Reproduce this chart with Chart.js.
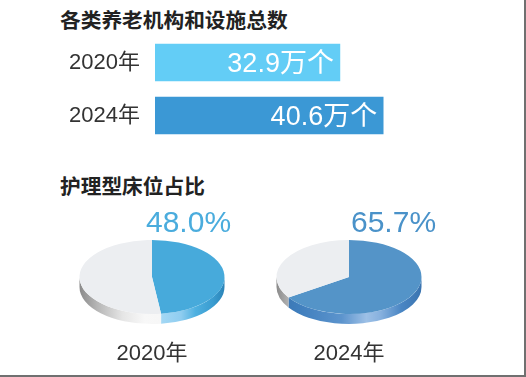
<!DOCTYPE html>
<html>
<head>
<meta charset="utf-8">
<script src="https://cdn.jsdelivr.net/npm/chart.js@4.4.1/dist/chart.umd.min.js"></script>
<style>
  body { margin: 0; background: #fff; }
  #frame {
    position: relative; width: 524px; height: 375px;
    border-right: 2px solid #707070; border-bottom: 2px solid #707070;
    overflow: hidden; background: #fff;
    font-family: "Liberation Sans", "Noto Sans CJK SC", sans-serif;
  }
  .title { position: absolute; left: 60px; font-size: 20.7px; font-weight: bold; color: #222; line-height: 1; white-space: nowrap; font-family: "Noto Sans CJK SC", sans-serif; }
  .year { position: absolute; width: 120px; text-align: center; font-size: 22px; color: #333; line-height: 1; }
  .box { position: absolute; }
</style>
</head>
<body>
<div id="frame">
  <div class="title" style="top:9px">各类养老机构和设施总数</div>
  <div class="title" style="top:175px">护理型床位占比</div>
  <div class="box" style="left:0;top:36px;width:526px;height:106px"><canvas id="bars"></canvas></div>
  <div class="box" style="left:54px;top:200px;width:196px;height:170px"><canvas id="pie0"></canvas></div>
  <div class="box" style="left:251px;top:200px;width:196px;height:170px"><canvas id="pie1"></canvas></div>
  <div class="year" style="left:92px;top:342px">2020年</div>
  <div class="year" style="left:289px;top:342px">2024年</div>
</div>
<script>
// data
const barYears = ['2020年', '2024年'];
const facilityTotals = [32.9, 40.6];   // 万个
const facilityUnit = '万个';
const pieYears = ['2020年', '2024年'];
const nursingShare = [48.0, 65.7];     // %

const FONT = "'Liberation Sans', 'Noto Sans CJK SC', sans-serif";

// white value text inside the bars
const barLabels = {
  id: 'barLabels',
  afterDatasetsDraw(chart) {
    const ctx = chart.ctx;
    const meta = chart.getDatasetMeta(0);
    ctx.save();
    ctx.font = '27px ' + FONT;
    ctx.fillStyle = '#fff';
    ctx.textAlign = 'right';
    ctx.textBaseline = 'alphabetic';
    meta.data.forEach((bar, i) => {
      ctx.fillText(facilityTotals[i] + facilityUnit, bar.x - 6, bar.y + 9.5);
    });
    ctx.restore();
  }
};

new Chart(document.getElementById('bars'), {
  type: 'bar',
  data: {
    labels: barYears,
    datasets: [{
      data: facilityTotals,
      backgroundColor: ['#63cdf6', '#3b98d5'],
      borderWidth: 0,
      barThickness: 37
    }]
  },
  options: {
    indexAxis: 'y',
    responsive: true,
    maintainAspectRatio: false,
    animation: false,
    layout: { padding: { left: 0, right: 90, top: 0, bottom: 0 } },
    plugins: { legend: { display: false }, tooltip: { enabled: false } },
    scales: {
      x: { display: false, min: 0, max: 50 },
      y: {
        grid: { display: false, drawTicks: false },
        border: { display: false },
        ticks: { color: '#333', padding: 15, font: { size: 22, family: FONT } },
        afterFit(scale) {
          scale.width = 155;
          scale.paddingTop = 0;
          scale.paddingBottom = 0;
        }
      }
    }
  },
  plugins: [barLabels]
});

// squash the pie into an ellipse and give it a side wall
function drawSides(chart, opts) {
  const ctx = chart.ctx;
  const meta = chart.getDatasetMeta(0);
  meta.data.forEach((arc, i) => {
    const r = arc.outerRadius, ry = r * opts.squash;
    const a = Math.max(arc.startAngle, 0), b = Math.min(arc.endAngle, Math.PI);
    if (b <= a) return;
    const g = ctx.createLinearGradient(arc.x - r, 0, arc.x + r, 0);
    opts.sides[i].forEach(([p, c]) => g.addColorStop(p, c));
    ctx.beginPath();
    ctx.ellipse(arc.x, arc.y, r, ry, 0, a, b, false);
    ctx.ellipse(arc.x, arc.y + opts.depth, r, ry, 0, b, a, true);
    ctx.closePath();
    ctx.fillStyle = g;
    ctx.fill();
  });
}

const tilt = {
  id: 'tilt',
  beforeDatasetsDraw(chart, args, opts) {
    drawSides(chart, opts);
    const arc = chart.getDatasetMeta(0).data[0];
    const ctx = chart.ctx;
    ctx.save();
    ctx.translate(arc.x, arc.y);
    ctx.scale(1, opts.squash);
    ctx.translate(-arc.x, -arc.y);
  },
  afterDatasetsDraw(chart) {
    chart.ctx.restore();
  },
  afterDraw(chart, args, opts) {
    const ctx = chart.ctx;
    const arc = chart.getDatasetMeta(0).data[0];
    const v = chart.data.datasets[0].data[0];
    ctx.save();
    ctx.font = '30px ' + FONT;
    ctx.fillStyle = opts.textColor;
    ctx.textAlign = 'left';
    ctx.textBaseline = 'alphabetic';
    ctx.fillText(v.toFixed(1) + '%', arc.x + opts.labelDx, 32);
    ctx.restore();
  }
};

const pieStyles = [
  {
    colors: ['#47aadb', '#eceef1'],
    textColor: '#4aacdd',
    labelDx: -6,
    sides: [
      [[0.55, '#a6d9f5'], [0.7, '#8fcdf0'], [0.8, '#4eb0e0'], [0.92, '#3a9cd0'], [1, '#2b84b8']],
      [[0, '#8a8a8a'], [0.12, '#b5b5b5'], [0.3, '#e6e6e6'], [0.45, '#f8f8f8'], [1, '#f2f2f2']]
    ]
  },
  {
    colors: ['#5494c8', '#eceef1'],
    textColor: '#4a92c9',
    labelDx: 2,
    sides: [
      [[0, '#3a74b0'], [0.15, '#3f7ebd'], [0.45, '#5c94cd'], [0.62, '#9dc0e6'], [0.72, '#86b0de'], [0.86, '#4a86c4'], [1, '#3a74b0']],
      [[0, '#8a8a8a'], [0.08, '#b0b0b0'], [1, '#d0d0d0']]
    ]
  }
];

nursingShare.forEach((share, i) => {
  const st = pieStyles[i];
  new Chart(document.getElementById('pie' + i), {
    type: 'pie',
    data: {
      labels: ['护理型床位', '其他'],
      datasets: [{
        data: [share, 100 - share],
        backgroundColor: st.colors,
        borderWidth: 0,
        hoverOffset: 0,
        clip: false
      }]
    },
    options: {
      responsive: true,
      maintainAspectRatio: false,
      animation: false,
      layout: { padding: { left: 25.5, right: 25.5, top: 4.5, bottom: 20.5 } },
      plugins: {
        legend: { display: false },
        tooltip: { enabled: false },
        tilt: { squash: 0.51, depth: 10, sides: st.sides, textColor: st.textColor, labelDx: st.labelDx }
      }
    },
    plugins: [tilt]
  });
});
</script>
</body>
</html>
